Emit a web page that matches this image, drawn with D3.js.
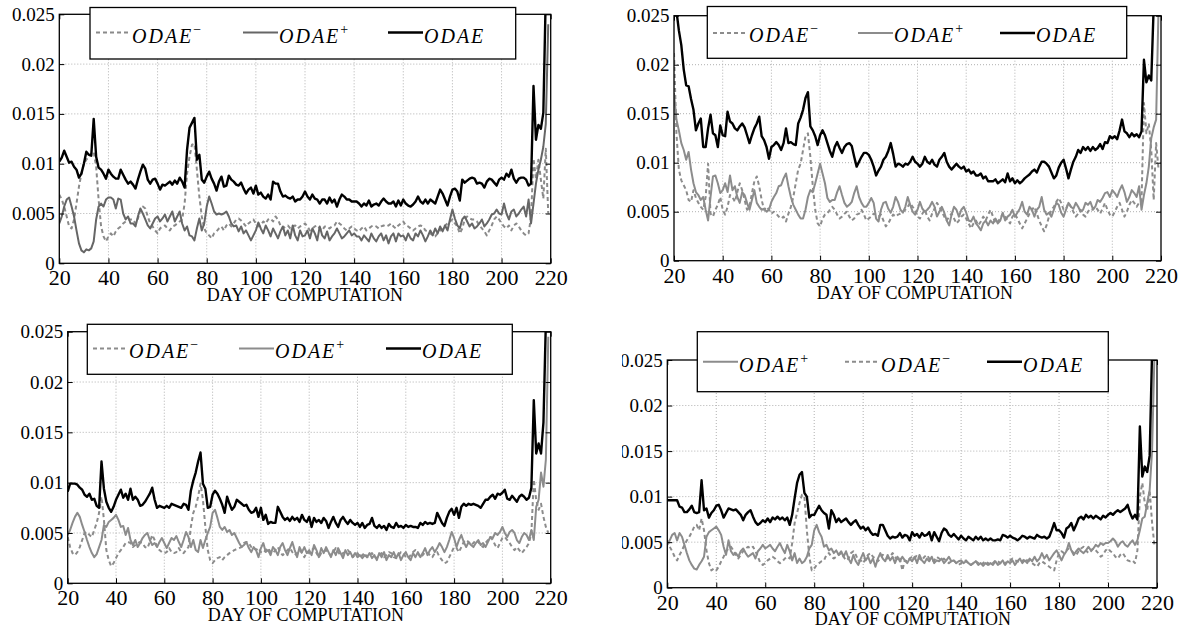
<!DOCTYPE html>
<html><head><meta charset="utf-8">
<script src="https://cdn.jsdelivr.net/npm/d3@7"></script>
<style>body{margin:0;background:#fff}svg{display:block}
svg text{font-family:"Liberation Serif",serif}</style>
</head><body>
<svg id="c" width="1184" height="628"></svg>
<script>
// ---------- data ----------
const firstDay = 20, lastDay = 219;
const xTicks = [20,40,60,80,100,120,140,160,180,200,220];
const yTicks = [0,0.005,0.01,0.015,0.02,0.025];
const yTickLabels = ["0","0.005","0.01","0.015","0.02","0.025"];
const xAxisLabel = "DAY OF COMPUTATION";
const seriesBase = "ODAE";
const seriesSup = {minus:"\u2212", plus:"+", odae:""};

// panel 1 (top-left)
const p1Odae = [.0102,.0106,.0113,.0107,.0101,.0102,.0097,.0094,.0086,.0090,
.0100,.0112,.0109,.0108,.0145,.0107,.0096,.0094,.0090,.0085,
.0094,.0090,.0087,.0085,.0085,.0094,.0089,.0084,.0080,.0082,
.0079,.0075,.0084,.0092,.0099,.0095,.0084,.0080,.0084,.0085,
.0080,.0074,.0079,.0078,.0080,.0082,.0079,.0083,.0080,.0086,
.0082,.0076,.0114,.0136,.0141,.0146,.0104,.0109,.0084,.0081,
.0087,.0092,.0085,.0080,.0073,.0082,.0087,.0077,.0078,.0088,
.0084,.0082,.0079,.0078,.0081,.0075,.0070,.0074,.0076,.0070,
.0078,.0069,.0071,.0067,.0065,.0069,.0064,.0082,.0080,.0080,
.0072,.0067,.0068,.0066,.0065,.0067,.0062,.0064,.0064,.0067,
.0072,.0067,.0064,.0069,.0065,.0064,.0060,.0064,.0064,.0060,
.0066,.0061,.0064,.0057,.0064,.0069,.0067,.0064,.0064,.0062,
.0062,.0062,.0060,.0057,.0060,.0058,.0063,.0057,.0059,.0060,
.0058,.0062,.0065,.0062,.0060,.0060,.0062,.0057,.0063,.0058,
.0064,.0060,.0058,.0057,.0059,.0062,.0067,.0062,.0060,.0064,
.0060,.0064,.0062,.0060,.0067,.0074,.0070,.0064,.0058,.0067,
.0074,.0075,.0072,.0063,.0084,.0081,.0083,.0085,.0086,.0085,
.0080,.0081,.0080,.0076,.0082,.0085,.0084,.0081,.0078,.0084,
.0086,.0084,.0090,.0087,.0094,.0085,.0081,.0085,.0086,.0086,
.0084,.0078,.0080,.0178,.0124,.0139,.0135,.0151,.0270,.0300];
const p1Plus = [.0040,.0047,.0057,.0064,.0066,.0057,.0047,.0033,.0020,.0013,
.0011,.0014,.0013,.0015,.0022,.0044,.0057,.0060,.0057,.0064,
.0066,.0066,.0064,.0055,.0065,.0064,.0050,.0044,.0047,.0040,
.0040,.0037,.0047,.0055,.0050,.0044,.0038,.0035,.0040,.0045,
.0047,.0042,.0045,.0049,.0042,.0047,.0052,.0042,.0047,.0052,
.0040,.0033,.0037,.0028,.0027,.0023,.0035,.0045,.0033,.0040,
.0057,.0067,.0060,.0052,.0049,.0050,.0049,.0050,.0052,.0047,
.0040,.0037,.0038,.0032,.0037,.0030,.0033,.0028,.0023,.0028,
.0033,.0041,.0035,.0030,.0038,.0033,.0027,.0035,.0030,.0025,
.0032,.0037,.0028,.0033,.0025,.0038,.0028,.0023,.0033,.0027,
.0028,.0033,.0025,.0035,.0030,.0023,.0037,.0028,.0025,.0032,
.0023,.0027,.0030,.0035,.0030,.0025,.0027,.0030,.0033,.0028,
.0030,.0027,.0027,.0023,.0028,.0025,.0022,.0030,.0025,.0022,
.0027,.0030,.0023,.0028,.0020,.0027,.0030,.0022,.0030,.0027,
.0028,.0023,.0030,.0025,.0023,.0030,.0027,.0033,.0028,.0022,
.0027,.0033,.0028,.0035,.0030,.0037,.0032,.0038,.0033,.0044,
.0054,.0045,.0038,.0035,.0044,.0047,.0042,.0037,.0040,.0035,
.0037,.0040,.0044,.0037,.0040,.0044,.0049,.0050,.0054,.0050,
.0049,.0060,.0050,.0044,.0052,.0054,.0047,.0050,.0054,.0057,
.0047,.0064,.0040,.0060,.0080,.0094,.0104,.0117,.0140,.0240];
const p1Minus = [.0069,.0064,.0057,.0047,.0037,.0035,.0044,.0060,.0077,.0090,
.0100,.0104,.0107,.0110,.0112,.0097,.0064,.0037,.0027,.0022,
.0027,.0030,.0027,.0032,.0035,.0037,.0040,.0042,.0044,.0044,
.0044,.0040,.0045,.0054,.0057,.0055,.0047,.0040,.0037,.0033,
.0030,.0035,.0037,.0038,.0035,.0033,.0037,.0038,.0040,.0042,
.0044,.0060,.0090,.0107,.0119,.0120,.0094,.0067,.0047,.0035,
.0030,.0028,.0025,.0030,.0032,.0035,.0037,.0033,.0038,.0040,
.0037,.0040,.0044,.0045,.0043,.0040,.0037,.0040,.0042,.0044,
.0040,.0037,.0038,.0042,.0040,.0044,.0045,.0042,.0047,.0044,
.0038,.0035,.0037,.0038,.0035,.0037,.0038,.0035,.0037,.0038,
.0040,.0037,.0033,.0035,.0037,.0038,.0035,.0033,.0037,.0037,
.0035,.0037,.0038,.0042,.0040,.0038,.0035,.0033,.0035,.0037,
.0035,.0033,.0032,.0035,.0037,.0033,.0035,.0037,.0038,.0037,
.0035,.0037,.0038,.0037,.0038,.0040,.0037,.0035,.0038,.0040,
.0042,.0038,.0037,.0035,.0033,.0035,.0037,.0038,.0037,.0033,
.0032,.0030,.0028,.0027,.0030,.0033,.0035,.0038,.0040,.0042,
.0044,.0040,.0037,.0030,.0035,.0044,.0047,.0045,.0044,.0044,
.0042,.0038,.0035,.0032,.0028,.0033,.0038,.0044,.0047,.0044,
.0040,.0037,.0035,.0038,.0033,.0038,.0040,.0037,.0033,.0030,
.0028,.0030,.0047,.0105,.0085,.0104,.0084,.0065,.0115,.0050];

// panel 2 (top-right)
const p2Odae = [.0270,.0255,.0235,.0220,.0195,.0179,.0178,.0165,.0154,.0133,
.0140,.0145,.0116,.0116,.0135,.0149,.0130,.0128,.0116,.0138,
.0128,.0127,.0152,.0142,.0140,.0135,.0133,.0137,.0140,.0136,
.0128,.0120,.0128,.0135,.0140,.0147,.0127,.0123,.0116,.0104,
.0116,.0118,.0121,.0118,.0113,.0120,.0135,.0120,.0121,.0119,
.0118,.0140,.0146,.0154,.0166,.0172,.0137,.0133,.0127,.0118,
.0128,.0133,.0128,.0120,.0112,.0106,.0116,.0121,.0115,.0110,
.0116,.0119,.0120,.0117,.0106,.0096,.0101,.0106,.0110,.0110,
.0108,.0103,.0096,.0087,.0092,.0096,.0103,.0106,.0112,.0120,
.0109,.0096,.0099,.0098,.0096,.0099,.0098,.0101,.0106,.0101,
.0099,.0096,.0099,.0106,.0101,.0099,.0103,.0098,.0096,.0103,
.0106,.0110,.0101,.0096,.0093,.0096,.0099,.0096,.0094,.0096,
.0091,.0093,.0089,.0091,.0087,.0087,.0089,.0084,.0086,.0081,
.0081,.0081,.0083,.0079,.0081,.0083,.0080,.0089,.0081,.0084,
.0079,.0082,.0079,.0081,.0084,.0086,.0088,.0091,.0093,.0090,
.0096,.0101,.0101,.0099,.0096,.0090,.0084,.0087,.0095,.0100,
.0103,.0094,.0084,.0093,.0101,.0106,.0113,.0110,.0116,.0113,
.0116,.0112,.0116,.0113,.0115,.0119,.0114,.0121,.0120,.0127,
.0125,.0127,.0124,.0133,.0144,.0132,.0130,.0126,.0130,.0127,
.0129,.0126,.0132,.0205,.0182,.0189,.0184,.0260,.0300,.0300];
const p2Plus = [.0171,.0144,.0133,.0120,.0113,.0103,.0111,.0093,.0079,.0070,
.0067,.0062,.0065,.0052,.0041,.0065,.0086,.0087,.0079,.0069,
.0072,.0079,.0070,.0087,.0072,.0076,.0065,.0059,.0070,.0067,
.0059,.0052,.0062,.0072,.0059,.0055,.0052,.0053,.0050,.0052,
.0060,.0065,.0069,.0076,.0077,.0084,.0089,.0076,.0065,.0057,
.0052,.0047,.0043,.0043,.0052,.0065,.0072,.0070,.0079,.0089,
.0099,.0089,.0079,.0064,.0060,.0062,.0062,.0070,.0076,.0067,
.0059,.0055,.0057,.0060,.0069,.0076,.0065,.0059,.0055,.0055,
.0059,.0064,.0059,.0043,.0040,.0052,.0059,.0060,.0053,.0049,
.0055,.0065,.0060,.0052,.0049,.0055,.0065,.0057,.0050,.0047,
.0052,.0060,.0053,.0050,.0052,.0055,.0060,.0055,.0045,.0050,
.0055,.0049,.0041,.0036,.0047,.0055,.0052,.0045,.0052,.0055,
.0049,.0041,.0040,.0045,.0038,.0035,.0031,.0038,.0041,.0036,
.0041,.0038,.0043,.0038,.0041,.0049,.0041,.0045,.0047,.0052,
.0045,.0049,.0053,.0060,.0050,.0047,.0055,.0052,.0045,.0052,
.0055,.0065,.0052,.0047,.0049,.0045,.0052,.0059,.0057,.0049,
.0045,.0052,.0059,.0055,.0053,.0059,.0055,.0050,.0052,.0059,
.0057,.0060,.0053,.0055,.0062,.0060,.0064,.0069,.0070,.0065,
.0072,.0069,.0065,.0072,.0077,.0070,.0060,.0065,.0072,.0069,
.0065,.0076,.0052,.0067,.0079,.0096,.0125,.0136,.0144,.0260];
const p2Minus = [.0212,.0130,.0093,.0082,.0077,.0072,.0062,.0060,.0072,.0064,
.0059,.0055,.0052,.0065,.0099,.0048,.0045,.0052,.0057,.0065,
.0052,.0047,.0055,.0067,.0065,.0060,.0070,.0079,.0072,.0062,
.0052,.0055,.0069,.0081,.0086,.0076,.0062,.0052,.0055,.0052,
.0048,.0050,.0048,.0045,.0043,.0045,.0040,.0048,.0055,.0065,
.0079,.0093,.0099,.0113,.0127,.0130,.0106,.0076,.0052,.0038,
.0035,.0043,.0047,.0048,.0052,.0055,.0052,.0047,.0043,.0045,
.0048,.0050,.0045,.0041,.0043,.0047,.0048,.0052,.0047,.0041,
.0043,.0045,.0048,.0047,.0045,.0047,.0041,.0035,.0038,.0043,
.0047,.0045,.0047,.0048,.0050,.0052,.0055,.0059,.0055,.0052,
.0045,.0043,.0048,.0052,.0045,.0041,.0048,.0053,.0059,.0055,
.0050,.0045,.0041,.0045,.0048,.0043,.0038,.0041,.0045,.0047,
.0043,.0038,.0033,.0038,.0041,.0036,.0040,.0045,.0041,.0047,
.0052,.0045,.0038,.0040,.0043,.0048,.0045,.0041,.0038,.0045,
.0048,.0043,.0038,.0033,.0038,.0043,.0048,.0052,.0055,.0048,
.0041,.0035,.0030,.0036,.0045,.0052,.0055,.0060,.0064,.0059,
.0052,.0053,.0059,.0055,.0050,.0045,.0048,.0052,.0047,.0045,
.0050,.0053,.0052,.0055,.0052,.0048,.0053,.0059,.0052,.0047,
.0045,.0050,.0055,.0059,.0052,.0045,.0050,.0057,.0062,.0059,
.0055,.0059,.0060,.0161,.0130,.0140,.0113,.0062,.0120,.0093];

// panel 3 (bottom-left)
const p3Odae = [.0091,.0099,.0099,.0099,.0098,.0095,.0093,.0088,.0086,.0089,
.0083,.0084,.0077,.0075,.0121,.0094,.0081,.0075,.0071,.0076,
.0083,.0088,.0093,.0085,.0089,.0083,.0094,.0083,.0086,.0083,
.0077,.0078,.0081,.0085,.0089,.0095,.0083,.0075,.0077,.0076,
.0075,.0077,.0075,.0079,.0078,.0077,.0076,.0075,.0079,.0078,
.0073,.0092,.0102,.0110,.0121,.0130,.0099,.0094,.0075,.0076,
.0088,.0092,.0089,.0084,.0078,.0070,.0086,.0079,.0073,.0076,
.0083,.0081,.0079,.0077,.0078,.0073,.0070,.0071,.0075,.0066,
.0075,.0063,.0068,.0059,.0061,.0060,.0060,.0076,.0071,.0066,
.0063,.0065,.0062,.0066,.0063,.0065,.0061,.0068,.0063,.0061,
.0066,.0056,.0065,.0061,.0063,.0060,.0065,.0062,.0055,.0061,
.0066,.0060,.0056,.0063,.0066,.0062,.0059,.0063,.0060,.0058,
.0060,.0056,.0060,.0055,.0058,.0059,.0065,.0057,.0055,.0058,
.0055,.0057,.0053,.0059,.0056,.0055,.0060,.0056,.0057,.0055,
.0058,.0056,.0057,.0056,.0056,.0055,.0060,.0058,.0061,.0059,
.0060,.0059,.0060,.0070,.0065,.0060,.0057,.0065,.0071,.0074,
.0068,.0075,.0065,.0076,.0079,.0077,.0079,.0078,.0079,.0078,
.0077,.0075,.0079,.0083,.0083,.0086,.0088,.0084,.0089,.0088,
.0090,.0093,.0084,.0083,.0087,.0084,.0081,.0086,.0088,.0086,
.0083,.0085,.0095,.0182,.0129,.0139,.0129,.0160,.0260,.0300];
const p3Plus = [.0048,.0053,.0060,.0066,.0070,.0066,.0058,.0051,.0043,.0036,
.0030,.0026,.0029,.0036,.0043,.0058,.0056,.0061,.0063,.0065,
.0068,.0063,.0056,.0057,.0048,.0055,.0043,.0038,.0043,.0036,
.0040,.0045,.0048,.0050,.0043,.0038,.0040,.0036,.0041,.0045,
.0040,.0035,.0040,.0045,.0043,.0047,.0041,.0036,.0043,.0051,
.0046,.0036,.0043,.0033,.0031,.0043,.0035,.0043,.0050,.0056,
.0070,.0073,.0065,.0056,.0053,.0056,.0051,.0053,.0048,.0050,
.0045,.0040,.0036,.0038,.0041,.0035,.0031,.0036,.0033,.0026,
.0035,.0040,.0031,.0033,.0028,.0036,.0033,.0028,.0036,.0040,
.0033,.0028,.0035,.0041,.0033,.0026,.0036,.0031,.0036,.0030,
.0033,.0028,.0038,.0033,.0026,.0035,.0030,.0036,.0031,.0026,
.0033,.0028,.0035,.0030,.0025,.0033,.0028,.0031,.0026,.0030,
.0026,.0028,.0025,.0028,.0026,.0030,.0025,.0028,.0023,.0030,
.0026,.0031,.0023,.0028,.0026,.0031,.0025,.0030,.0023,.0028,
.0031,.0026,.0023,.0030,.0026,.0031,.0026,.0030,.0035,.0028,
.0033,.0036,.0031,.0035,.0040,.0036,.0031,.0036,.0043,.0051,
.0045,.0036,.0043,.0048,.0041,.0036,.0041,.0038,.0036,.0040,
.0043,.0038,.0040,.0036,.0041,.0046,.0045,.0050,.0048,.0051,
.0056,.0050,.0046,.0051,.0053,.0050,.0043,.0040,.0046,.0050,
.0048,.0043,.0053,.0043,.0076,.0083,.0110,.0096,.0123,.0245];
const p3Minus = [.0046,.0036,.0030,.0028,.0031,.0036,.0043,.0050,.0051,.0048,
.0046,.0053,.0060,.0070,.0086,.0063,.0033,.0023,.0017,.0020,
.0025,.0030,.0033,.0036,.0040,.0041,.0040,.0036,.0038,.0040,
.0041,.0040,.0036,.0035,.0041,.0048,.0043,.0036,.0033,.0031,
.0030,.0031,.0035,.0031,.0030,.0031,.0035,.0031,.0030,.0033,
.0036,.0056,.0070,.0076,.0086,.0099,.0083,.0056,.0033,.0023,
.0020,.0023,.0025,.0026,.0023,.0026,.0028,.0030,.0031,.0033,
.0034,.0035,.0036,.0040,.0041,.0040,.0036,.0035,.0033,.0035,
.0031,.0030,.0033,.0035,.0031,.0030,.0033,.0036,.0031,.0028,
.0030,.0033,.0035,.0031,.0028,.0030,.0033,.0030,.0026,.0031,
.0030,.0033,.0035,.0030,.0026,.0030,.0031,.0033,.0030,.0028,
.0031,.0035,.0031,.0028,.0030,.0031,.0033,.0030,.0026,.0028,
.0030,.0026,.0028,.0030,.0026,.0028,.0030,.0026,.0025,.0028,
.0030,.0026,.0028,.0031,.0030,.0026,.0025,.0028,.0031,.0030,
.0026,.0025,.0028,.0031,.0033,.0030,.0026,.0028,.0031,.0030,
.0028,.0026,.0030,.0031,.0026,.0023,.0020,.0021,.0026,.0031,
.0036,.0035,.0031,.0036,.0041,.0043,.0041,.0038,.0040,.0043,
.0041,.0038,.0036,.0040,.0043,.0046,.0043,.0038,.0035,.0040,
.0045,.0046,.0043,.0040,.0036,.0033,.0036,.0033,.0030,.0033,
.0036,.0040,.0050,.0103,.0083,.0073,.0079,.0066,.0056,.0050];

// panel 4 (bottom-right)
const p4Odae = [.0096,.0096,.0096,.0096,.0096,.0089,.0088,.0083,.0083,.0086,
.0090,.0083,.0082,.0083,.0118,.0085,.0087,.0077,.0082,.0085,
.0090,.0091,.0085,.0077,.0082,.0087,.0086,.0085,.0086,.0083,
.0080,.0074,.0080,.0083,.0085,.0078,.0072,.0069,.0071,.0074,
.0072,.0076,.0072,.0077,.0075,.0078,.0075,.0077,.0074,.0077,
.0069,.0080,.0098,.0115,.0124,.0127,.0104,.0100,.0077,.0080,
.0080,.0085,.0090,.0085,.0082,.0080,.0065,.0085,.0080,.0072,
.0076,.0072,.0074,.0076,.0072,.0069,.0072,.0074,.0069,.0065,
.0067,.0063,.0066,.0061,.0058,.0059,.0057,.0069,.0069,.0063,
.0057,.0054,.0056,.0055,.0056,.0060,.0055,.0058,.0057,.0052,
.0061,.0057,.0059,.0055,.0060,.0057,.0058,.0061,.0052,.0061,
.0056,.0051,.0060,.0065,.0063,.0058,.0056,.0059,.0056,.0053,
.0057,.0054,.0052,.0056,.0054,.0052,.0056,.0053,.0056,.0052,
.0054,.0052,.0054,.0052,.0052,.0053,.0052,.0058,.0057,.0055,
.0057,.0055,.0054,.0052,.0054,.0057,.0056,.0054,.0056,.0055,
.0054,.0058,.0056,.0055,.0056,.0054,.0056,.0063,.0071,.0063,
.0063,.0060,.0055,.0065,.0067,.0071,.0063,.0069,.0076,.0078,
.0075,.0080,.0077,.0079,.0076,.0079,.0077,.0075,.0079,.0077,
.0080,.0082,.0080,.0083,.0085,.0083,.0085,.0087,.0091,.0082,
.0076,.0080,.0075,.0177,.0122,.0133,.0127,.0145,.0260,.0300];
const p4Plus = [.0047,.0052,.0058,.0060,.0052,.0060,.0056,.0047,.0038,.0030,
.0025,.0021,.0020,.0025,.0029,.0034,.0056,.0061,.0063,.0065,
.0067,.0063,.0058,.0045,.0036,.0052,.0040,.0036,.0038,.0034,
.0040,.0043,.0038,.0034,.0036,.0038,.0032,.0040,.0043,.0047,
.0043,.0045,.0047,.0043,.0040,.0045,.0049,.0043,.0038,.0047,
.0040,.0030,.0038,.0027,.0032,.0027,.0029,.0034,.0043,.0047,
.0063,.0069,.0061,.0056,.0045,.0047,.0041,.0043,.0038,.0041,
.0036,.0040,.0034,.0040,.0032,.0027,.0036,.0029,.0025,.0032,
.0038,.0030,.0034,.0027,.0032,.0023,.0032,.0038,.0032,.0029,
.0036,.0030,.0034,.0027,.0034,.0029,.0034,.0030,.0027,.0032,
.0029,.0034,.0027,.0036,.0030,.0027,.0032,.0029,.0034,.0027,
.0030,.0029,.0032,.0027,.0030,.0034,.0029,.0030,.0027,.0029,
.0030,.0027,.0029,.0027,.0025,.0027,.0029,.0025,.0027,.0024,
.0027,.0025,.0027,.0025,.0029,.0025,.0027,.0030,.0025,.0029,
.0027,.0030,.0025,.0029,.0032,.0027,.0030,.0027,.0032,.0029,
.0034,.0029,.0032,.0038,.0032,.0036,.0030,.0034,.0038,.0041,
.0036,.0030,.0036,.0040,.0049,.0041,.0036,.0040,.0043,.0040,
.0038,.0041,.0045,.0041,.0043,.0047,.0045,.0049,.0047,.0049,
.0049,.0051,.0054,.0051,.0045,.0049,.0051,.0047,.0045,.0049,
.0052,.0047,.0052,.0063,.0076,.0078,.0093,.0107,.0151,.0260];
const p4Minus = [.0052,.0045,.0040,.0034,.0030,.0036,.0041,.0047,.0052,.0056,
.0061,.0067,.0069,.0063,.0076,.0063,.0041,.0027,.0019,.0021,
.0019,.0023,.0029,.0034,.0040,.0043,.0045,.0041,.0036,.0032,
.0036,.0040,.0043,.0045,.0043,.0045,.0040,.0034,.0027,.0025,
.0027,.0030,.0032,.0034,.0032,.0029,.0027,.0029,.0032,.0034,
.0032,.0049,.0071,.0082,.0093,.0102,.0100,.0063,.0034,.0019,
.0021,.0025,.0027,.0029,.0030,.0036,.0038,.0034,.0032,.0034,
.0036,.0038,.0034,.0030,.0032,.0038,.0040,.0036,.0030,.0030,
.0027,.0032,.0036,.0038,.0034,.0032,.0029,.0032,.0036,.0034,
.0032,.0034,.0038,.0034,.0030,.0032,.0019,.0030,.0029,.0032,
.0034,.0032,.0036,.0032,.0030,.0034,.0036,.0032,.0029,.0030,
.0034,.0032,.0030,.0032,.0029,.0027,.0029,.0030,.0027,.0025,
.0027,.0029,.0030,.0027,.0025,.0027,.0029,.0027,.0025,.0027,
.0029,.0027,.0025,.0027,.0030,.0029,.0027,.0025,.0027,.0029,
.0030,.0032,.0030,.0029,.0027,.0029,.0032,.0030,.0029,.0027,
.0025,.0023,.0027,.0029,.0027,.0025,.0023,.0021,.0019,.0030,
.0038,.0040,.0038,.0041,.0043,.0041,.0038,.0036,.0040,.0043,
.0045,.0041,.0038,.0040,.0043,.0041,.0038,.0034,.0036,.0041,
.0043,.0040,.0038,.0034,.0032,.0036,.0038,.0034,.0030,.0029,
.0030,.0027,.0041,.0100,.0115,.0093,.0085,.0107,.0071,.0045];

// ---------- layout ----------
const days = d3.range(firstDay, lastDay + 1);
const FONT = "Liberation Serif";
const panels = [
  {plot:{l:59.3,r:550.7,t:14.3,b:263.3},
   legend:{x0:90,x1:515.7,y0:7.5,y1:59,lineY:32.5,textY:42.5},
   items:[{k:"minus",x:96},{k:"plus",x:243},{k:"odae",x:388}],
   data:{minus:p1Minus,plus:p1Plus,odae:p1Odae},
   colors:{minus:"#8a8a8a",plus:"#666666",odae:"#000"},
   xTickPad:6.5, xlab:{x:305,y:300.5}, clipLabelsX:null},
  {plot:{l:674,r:1161,t:15.7,b:260.7},
   legend:{x0:707.3,x1:1126.7,y0:6.5,y1:58.3,lineY:33,textY:41.7},
   items:[{k:"minus",x:713},{k:"plus",x:858},{k:"odae",x:1000}],
   data:{minus:p2Minus,plus:p2Plus,odae:p2Odae},
   colors:{minus:"#8c8c8c",plus:"#8c8c8c",odae:"#000"},
   xTickPad:6.5, xlab:{x:915,y:298.5}, clipLabelsX:null},
  {plot:{l:67.7,r:550.7,t:331.7,b:583.3},
   legend:{x0:87.3,x1:512.3,y0:324.3,y1:374.3,lineY:348.5,textY:357.7},
   items:[{k:"minus",x:93},{k:"plus",x:239},{k:"odae",x:386}],
   data:{minus:p3Minus,plus:p3Plus,odae:p3Odae},
   colors:{minus:"#8c8c8c",plus:"#8c8c8c",odae:"#000"},
   xTickPad:6, xlab:{x:306,y:620.5}, clipLabelsX:null},
  {plot:{l:667.3,r:1157,t:360,b:587.7},
   legend:{x0:697.3,x1:1108.3,y0:331.7,y1:391.7,lineY:361.7,textY:371.7},
   items:[{k:"plus",x:703},{k:"minus",x:845},{k:"odae",x:987}],
   data:{minus:p4Minus,plus:p4Plus,odae:p4Odae},
   colors:{minus:"#8c8c8c",plus:"#8c8c8c",odae:"#000"},
   xTickPad:6.5, xlab:{x:913,y:624.5}, clipLabelsX:622}
];

const svg = d3.select("#c");
const defs = svg.append("defs");

panels.forEach((P, pi) => {
  const {l, r, t, b} = P.plot;
  const x = d3.scaleLinear().domain([20, 220]).range([l, r]);
  const y = d3.scaleLinear().domain([0, 0.025]).range([b, t]);
  const g = svg.append("g");

  defs.append("clipPath").attr("id", "clip" + pi)
    .append("rect").attr("x", l).attr("y", t).attr("width", r - l).attr("height", b - t);

  // grid
  const grid = g.append("g").attr("stroke", "#b0b0b0").attr("stroke-width", 1).attr("stroke-dasharray", "1,2");
  xTicks.slice(1, -1).forEach(v => grid.append("line")
    .attr("x1", x(v)).attr("x2", x(v)).attr("y1", t).attr("y2", b));
  yTicks.slice(1, -1).forEach(v => grid.append("line")
    .attr("x1", l).attr("x2", r).attr("y1", y(v)).attr("y2", y(v)));

  // series
  const line = d3.line().x(d => x(d.d)).y(d => y(d.v));
  const lines = g.append("g").attr("clip-path", `url(#clip${pi})`);
  ["minus", "plus", "odae"].forEach(k => {
    const pts = days.map((d, i) => ({d, v: P.data[k][i]})).filter(p => p.v !== undefined);
    lines.append("path").datum(pts).attr("d", line)
      .attr("fill", "none").attr("stroke", P.colors[k])
      .attr("stroke-width", k === "odae" ? 2.4 : 2)
      .attr("stroke-linejoin", "round")
      .attr("stroke-dasharray", k === "minus" ? "4,3" : null);
  });

  // axes (inward ticks on all sides)
  const styleAxis = (sel, size) => {
    sel.select(".domain").remove();
    sel.attr("font-family", null).attr("font-size", null);
    sel.selectAll(".tick line").attr("stroke", "#000").attr("stroke-width", 1);
    sel.selectAll("text").attr("fill", "#000")
      .style("font-family", FONT).style("font-size", (size || 18) + "px");
  };
  g.append("g").attr("transform", `translate(0,${b})`)
    .call(d3.axisBottom(x).tickValues(xTicks).tickSize(-5).tickPadding(P.xTickPad).tickFormat(d => String(d)))
    .call(styleAxis, 22);
  g.append("g").attr("transform", `translate(0,${t})`)
    .call(d3.axisTop(x).tickValues(xTicks).tickSize(-5).tickFormat(""))
    .call(styleAxis);
  const yWrap = g.append("g");
  if (P.clipLabelsX !== null) {
    defs.append("clipPath").attr("id", "lclip" + pi).append("rect")
      .attr("x", P.clipLabelsX).attr("y", t - 20).attr("width", l - P.clipLabelsX + 10).attr("height", b - t + 40);
    yWrap.attr("clip-path", `url(#lclip${pi})`);
  }
  yWrap.append("g").attr("transform", `translate(${l},0)`)
    .call(d3.axisLeft(y).tickValues(yTicks).tickSize(-5).tickPadding(4.5).tickFormat((d, i) => yTickLabels[i]))
    .call(styleAxis, 19);
  g.append("g").attr("transform", `translate(${r},0)`)
    .call(d3.axisRight(y).tickValues(yTicks).tickSize(-5).tickFormat(""))
    .call(styleAxis);

  // frame
  g.append("rect").attr("x", l).attr("y", t).attr("width", r - l).attr("height", b - t)
    .attr("fill", "none").attr("stroke", "#000").attr("stroke-width", 1.3);

  // x label
  g.append("text").attr("x", P.xlab.x).attr("y", P.xlab.y).attr("text-anchor", "middle")
    .style("font-family", FONT).style("font-size", "18px").attr("fill", "#000").text(xAxisLabel);

  // legend
  const L = P.legend;
  const lg = g.append("g");
  lg.append("rect").attr("x", L.x0).attr("y", L.y0).attr("width", L.x1 - L.x0).attr("height", L.y1 - L.y0)
    .attr("fill", "#fff").attr("stroke", "#000").attr("stroke-width", 1.3);
  P.items.forEach(it => {
    lg.append("line").attr("x1", it.x).attr("x2", it.x + 35).attr("y1", L.lineY).attr("y2", L.lineY)
      .attr("stroke", P.colors[it.k]).attr("stroke-width", it.k === "odae" ? 2.4 : 2)
      .attr("stroke-dasharray", it.k === "minus" ? "4,3" : null);
    const tx = lg.append("text").attr("x", it.x + 36).attr("y", L.textY)
      .style("font-family", FONT).style("font-style", "italic").style("font-size", "20px")
      .style("letter-spacing", "2px").attr("fill", "#000");
    tx.append("tspan").text(seriesBase);
    if (seriesSup[it.k]) tx.append("tspan").attr("dy", -9).style("font-size", "14px")
      .style("font-style", "normal").style("letter-spacing", "0px").text(seriesSup[it.k]);
  });
});
</script>
</body></html>
